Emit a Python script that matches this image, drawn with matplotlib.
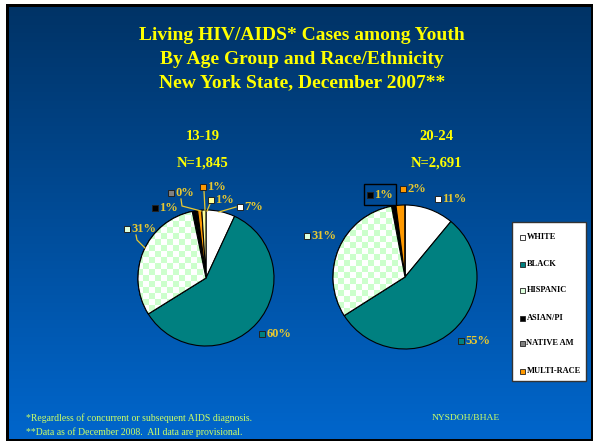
import numpy as np
import matplotlib
matplotlib.use("Agg")
import matplotlib.pyplot as plt
from matplotlib.patches import Rectangle, Wedge

# ---------------- data ----------------
categories = ["WHITE", "BLACK", "HISPANIC", "ASIAN/PI", "NATIVE AM", "MULTI-RACE", "UNKNOWN"]
legend_categories = ["WHITE", "BLACK", "HISPANIC", "ASIAN/PI", "NATIVE AM", "MULTI-RACE"]
colors = ["#FFFFFF", "#008080", "#FFFFFF", "#000000", "#808080", "#FF9900", "#FFFF99"]
swatch_colors = ["#FFFFFF", "#008080", "#DDFFDD", "#000000", "#808080", "#FF9900", "#FFFF99"]

age_groups = ["13-19", "20-24"]
totals = ["N=1,845", "N=2,691"]
pct_13_19 = [7, 60, 31, 1, 0.3, 1, 1]
pct_20_24 = [11, 55, 31, 1, 0, 2, 0]

title_lines = ["Living HIV/AIDS* Cases among Youth",
               "By Age Group and Race/Ethnicity",
               "New York State, December 2007**"]
footnotes = ["*Regardless of concurrent or subsequent AIDS diagnosis.",
             "**Data as of December 2008.  All data are provisional."]
source = "NYSDOH/BHAE"

# ---------------- layout (pixel coords, y measured from top) ----------------
W, H = 596, 447
def Y(y):
    return H - y

SERIF = ["Liberation Serif", "DejaVu Serif"]
TITLE_C = "#FFFF00"
LABEL_C = "#E8C830"
FOOT_C = "#CCFF66"

fig = plt.figure(figsize=(W / 100, H / 100), dpi=100)
fig.patch.set_facecolor("white")
ax = fig.add_axes([0, 0, 1, 1])

# frame + gradient background
ax.add_patch(Rectangle((6, Y(441)), 587, 437, facecolor="black", edgecolor="none", zorder=0))
grad = np.linspace(0, 1, 256)[:, None]
top = np.array([0, 51, 102]) / 255
bot = np.array([0, 102, 204]) / 255
img = top[None, None, :] * (1 - grad[:, :, None]) + bot[None, None, :] * grad[:, :, None]
ax.imshow(img, extent=(9, 591, Y(439), Y(7)), aspect="auto", zorder=0.5, origin="upper")

# titles
for i, line in enumerate(title_lines):
    ax.text(302, Y(35 + 24 * i), line, ha="center", va="center", fontsize=14,
            fontweight="bold", family=SERIF, color=TITLE_C, zorder=5)

pies = [
    dict(vals=pct_13_19, center=(206, 278), r=68, sub_x=203,
         labels={"WHITE": (240, 207), "BLACK": (262, 334), "HISPANIC": (127, 229),
                 "ASIAN/PI": (155, 208), "NATIVE AM": (171, 193),
                 "MULTI-RACE": (203, 187), "UNKNOWN": (211, 200)}),
    dict(vals=pct_20_24, center=(405, 277), r=72, sub_x=436,
         labels={"WHITE": (438, 199), "BLACK": (461, 341), "HISPANIC": (307, 236),
                 "ASIAN/PI": (370, 195), "MULTI-RACE": (403, 189)}),
]

cell = 6
for k, p in enumerate(pies):
    cx, cy = p["center"]
    wedges, _ = ax.pie(p["vals"], colors=colors, startangle=90, counterclock=False,
                       center=(cx, Y(cy)), radius=p["r"], frame=True,
                       wedgeprops=dict(edgecolor="black", linewidth=0.8))
    for w in wedges:
        w.set_zorder(2)
    # checker pattern for hispanic
    hw = wedges[categories.index("HISPANIC")]
    n = int(2 * p["r"] / cell) + 2
    yy, xx = np.mgrid[0:n, 0:n]
    chk = ((xx + yy) % 2).astype(float)
    cimg = np.where(chk[:, :, None] == 1,
                    np.array([0.80, 1.0, 0.80])[None, None, :],
                    np.array([1.0, 1.0, 1.0])[None, None, :])
    x0 = cx - p["r"] - 1
    y0 = Y(cy) - p["r"] - 1
    im = ax.imshow(cimg, extent=(x0, x0 + n * cell, y0, y0 + n * cell),
                   interpolation="nearest", aspect="auto", zorder=2.5)
    im.set_clip_path(hw)
    ax.add_patch(Wedge(hw.center, hw.r, hw.theta1, hw.theta2, fill=False,
                       edgecolor="black", linewidth=0.8, zorder=3))
    # subtitles
    ax.text(p["sub_x"], Y(136), age_groups[k], ha="center", va="center", fontsize=10.5,
            fontweight="bold", family=SERIF, color=TITLE_C)
    ax.text(p["sub_x"], Y(163), totals[k], ha="center", va="center", fontsize=10.5,
            fontweight="bold", family=SERIF, color=TITLE_C)
    # data labels
    for cat, (sx, sy) in p["labels"].items():
        i = categories.index(cat)
        v = p["vals"][i]
        ax.add_patch(Rectangle((sx - 3, Y(sy) - 3), 6, 6, facecolor=swatch_colors[i],
                               edgecolor="#222222", linewidth=0.7, zorder=6))
        ax.text(sx + 4.5, Y(sy), f"{int(round(v))}%", ha="left", va="center",
                fontsize=9, fontweight="bold", family=SERIF, color=LABEL_C, zorder=6)

# leader lines (left pie)
lines = [
    [(219, 212), (236, 207)],
    [(210, 204), (207, 211)],
    [(181, 199), (182, 206), (201, 211)],
    [(204, 191), (205, 210)],
    [(136, 235), (137, 240), (145, 248)],
]
for ln in lines:
    xs = [a for a, b in ln]
    ys = [Y(b) for a, b in ln]
    ax.plot(xs, ys, color=LABEL_C, linewidth=0.9, zorder=4)

# box around right ASIAN/PI label
ax.add_patch(Rectangle((364, Y(205)), 32, 21, fill=False, edgecolor="black",
                       linewidth=1.0, zorder=6))

# legend
ax.add_patch(Rectangle((512, Y(381)), 74, 159, facecolor="white", edgecolor="#333333",
                       linewidth=1.0, zorder=6))
leg_y = [237, 264, 290, 318, 343, 371]
for cat, ly in zip(legend_categories, leg_y):
    i = categories.index(cat)
    ax.add_patch(Rectangle((519.5, Y(ly) - 2.5), 5, 5, facecolor=swatch_colors[i],
                           edgecolor="#222222", linewidth=0.6, zorder=7))
    ax.text(526.5, Y(ly), cat, ha="left", va="center", fontsize=6, fontweight="bold",
            family=SERIF, color="black", zorder=7)

# footnotes
ax.text(26, Y(418), footnotes[0], ha="left", va="center", fontsize=7, family=SERIF,
        color=FOOT_C)
ax.text(26, Y(432), footnotes[1], ha="left", va="center", fontsize=7, family=SERIF,
        color=FOOT_C)
ax.text(500, Y(418), source, ha="right", va="center", fontsize=6.8, family=SERIF,
        color=FOOT_C)

ax.set_xlim(0, W)
ax.set_ylim(0, H)
ax.set_aspect("auto")
ax.axis("off")
fig.savefig("out.png", dpi=100, facecolor="white")
